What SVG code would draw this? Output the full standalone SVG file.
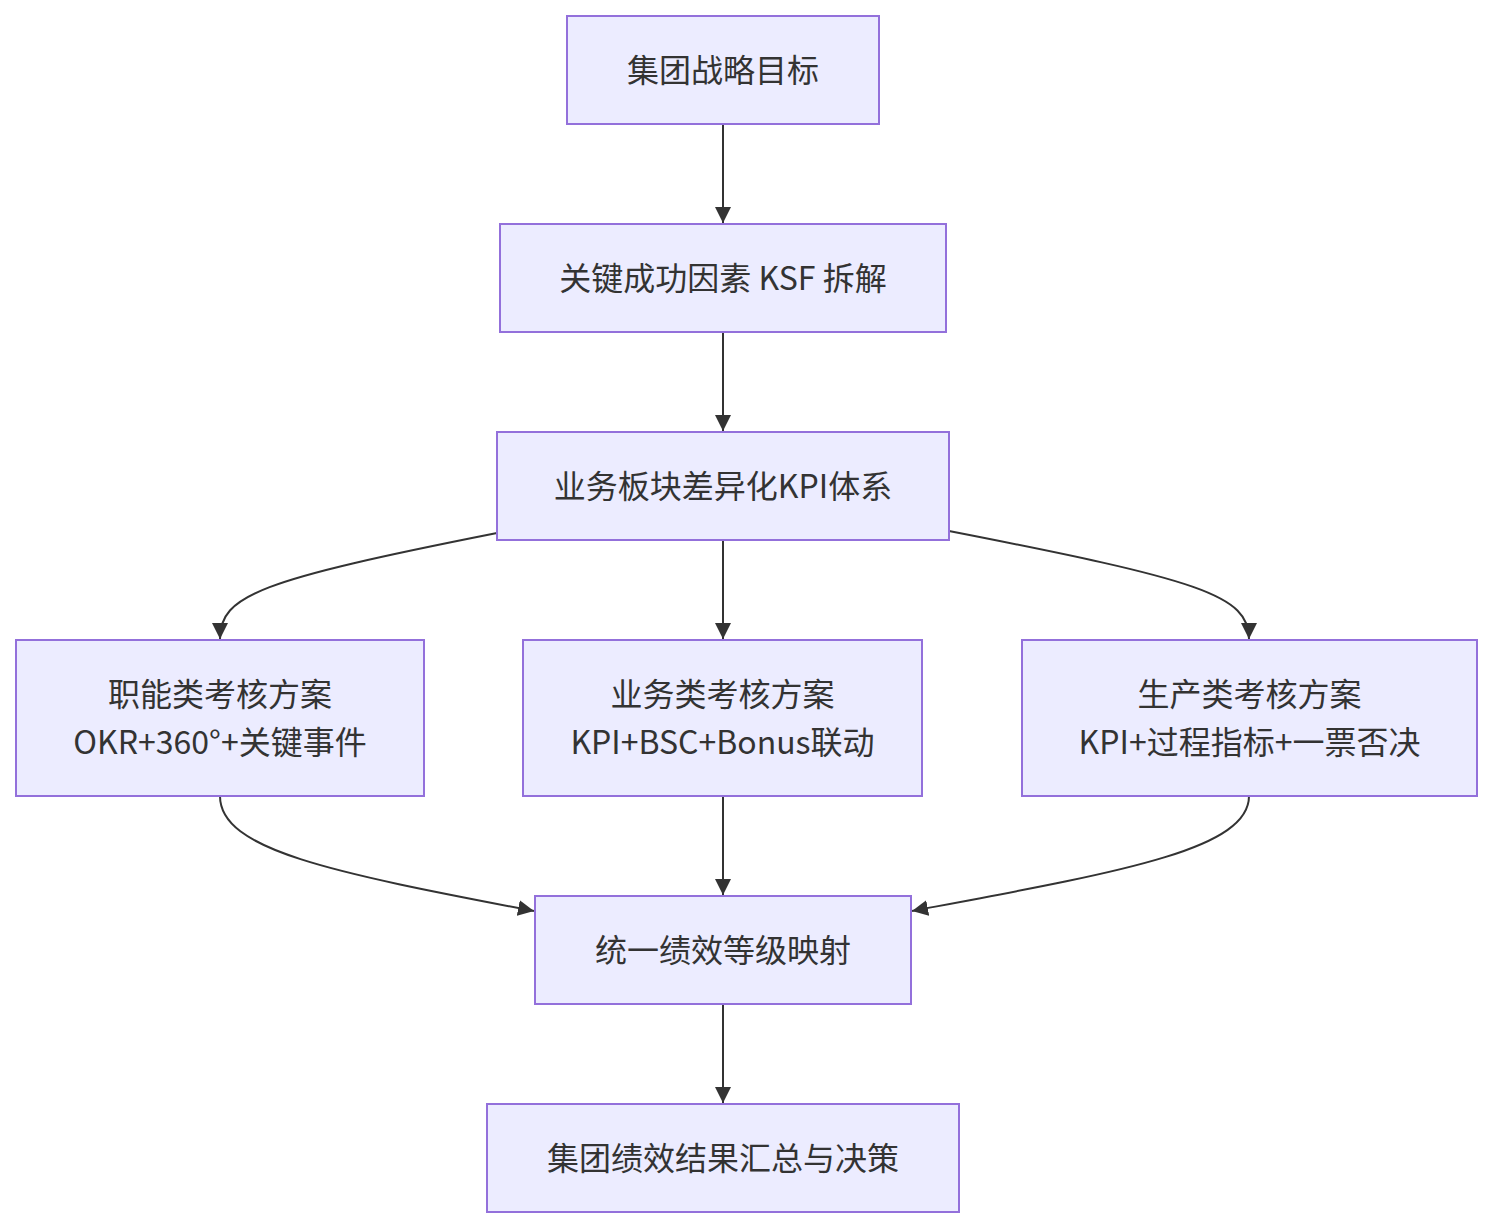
<svg xmlns="http://www.w3.org/2000/svg" width="1492" height="1228" viewBox="0 0 1492 1228">
<style>
.node rect{fill:#ECECFF;stroke:#9370DB;stroke-width:2}
.node text{font-family:"Noto Sans CJK SC","Noto Sans",sans-serif;font-size:32px;fill:#333;text-anchor:middle;dominant-baseline:central}
.edges path{fill:none;stroke:#333;stroke-width:2}
</style>
<defs>
<marker id="arr" viewBox="0 0 10 10" refX="10" refY="5" markerUnits="userSpaceOnUse" markerWidth="16" markerHeight="16" orient="auto">
<path d="M0,0 L10,5 L0,10 z" fill="#333"/>
</marker>
</defs>
<rect width="1492" height="1228" fill="#fff"/>
<g class="edges">
<path d="M723,124 L723,223" marker-end="url(#arr)"/>
<path d="M723,332 L723,431" marker-end="url(#arr)"/>
<path d="M497,533 C260,580 220,595 220,639" marker-end="url(#arr)"/>
<path d="M723,540 L723,639" marker-end="url(#arr)"/>
<path d="M949,531 C1200,580 1249,595 1249,639" marker-end="url(#arr)"/>
<path d="M220,796 C220,850 330,872 534,911" marker-end="url(#arr)"/>
<path d="M723,796 L723,895" marker-end="url(#arr)"/>
<path d="M1249,796 C1249,850 1120,872 912,911" marker-end="url(#arr)"/>
<path d="M723,1004 L723,1103" marker-end="url(#arr)"/>
</g>
<g id="A" class="node"><rect x="567" y="16" width="312" height="108"/><text x="723" y="68">集团战略目标</text></g>
<g id="B" class="node"><rect x="500" y="224" width="446" height="108"/><text x="723" y="276">关键成功因素 KSF 拆解</text></g>
<g id="C" class="node"><rect x="497" y="432" width="452" height="108"/><text x="723" y="484">业务板块差异化KPI体系</text></g>
<g id="D" class="node"><rect x="16" y="640" width="408" height="156"/><text x="220" y="692">职能类考核方案</text><text x="220" y="740">OKR+360°+关键事件</text></g>
<g id="E" class="node"><rect x="523" y="640" width="399" height="156"/><text x="722.5" y="692">业务类考核方案</text><text x="722.5" y="740">KPI+BSC+Bonus联动</text></g>
<g id="F" class="node"><rect x="1022" y="640" width="455" height="156"/><text x="1249.5" y="692">生产类考核方案</text><text x="1249.5" y="740">KPI+过程指标+一票否决</text></g>
<g id="G" class="node"><rect x="535" y="896" width="376" height="108"/><text x="723" y="948">统一绩效等级映射</text></g>
<g id="H" class="node"><rect x="487" y="1104" width="472" height="108"/><text x="723" y="1156">集团绩效结果汇总与决策</text></g>
</svg>
